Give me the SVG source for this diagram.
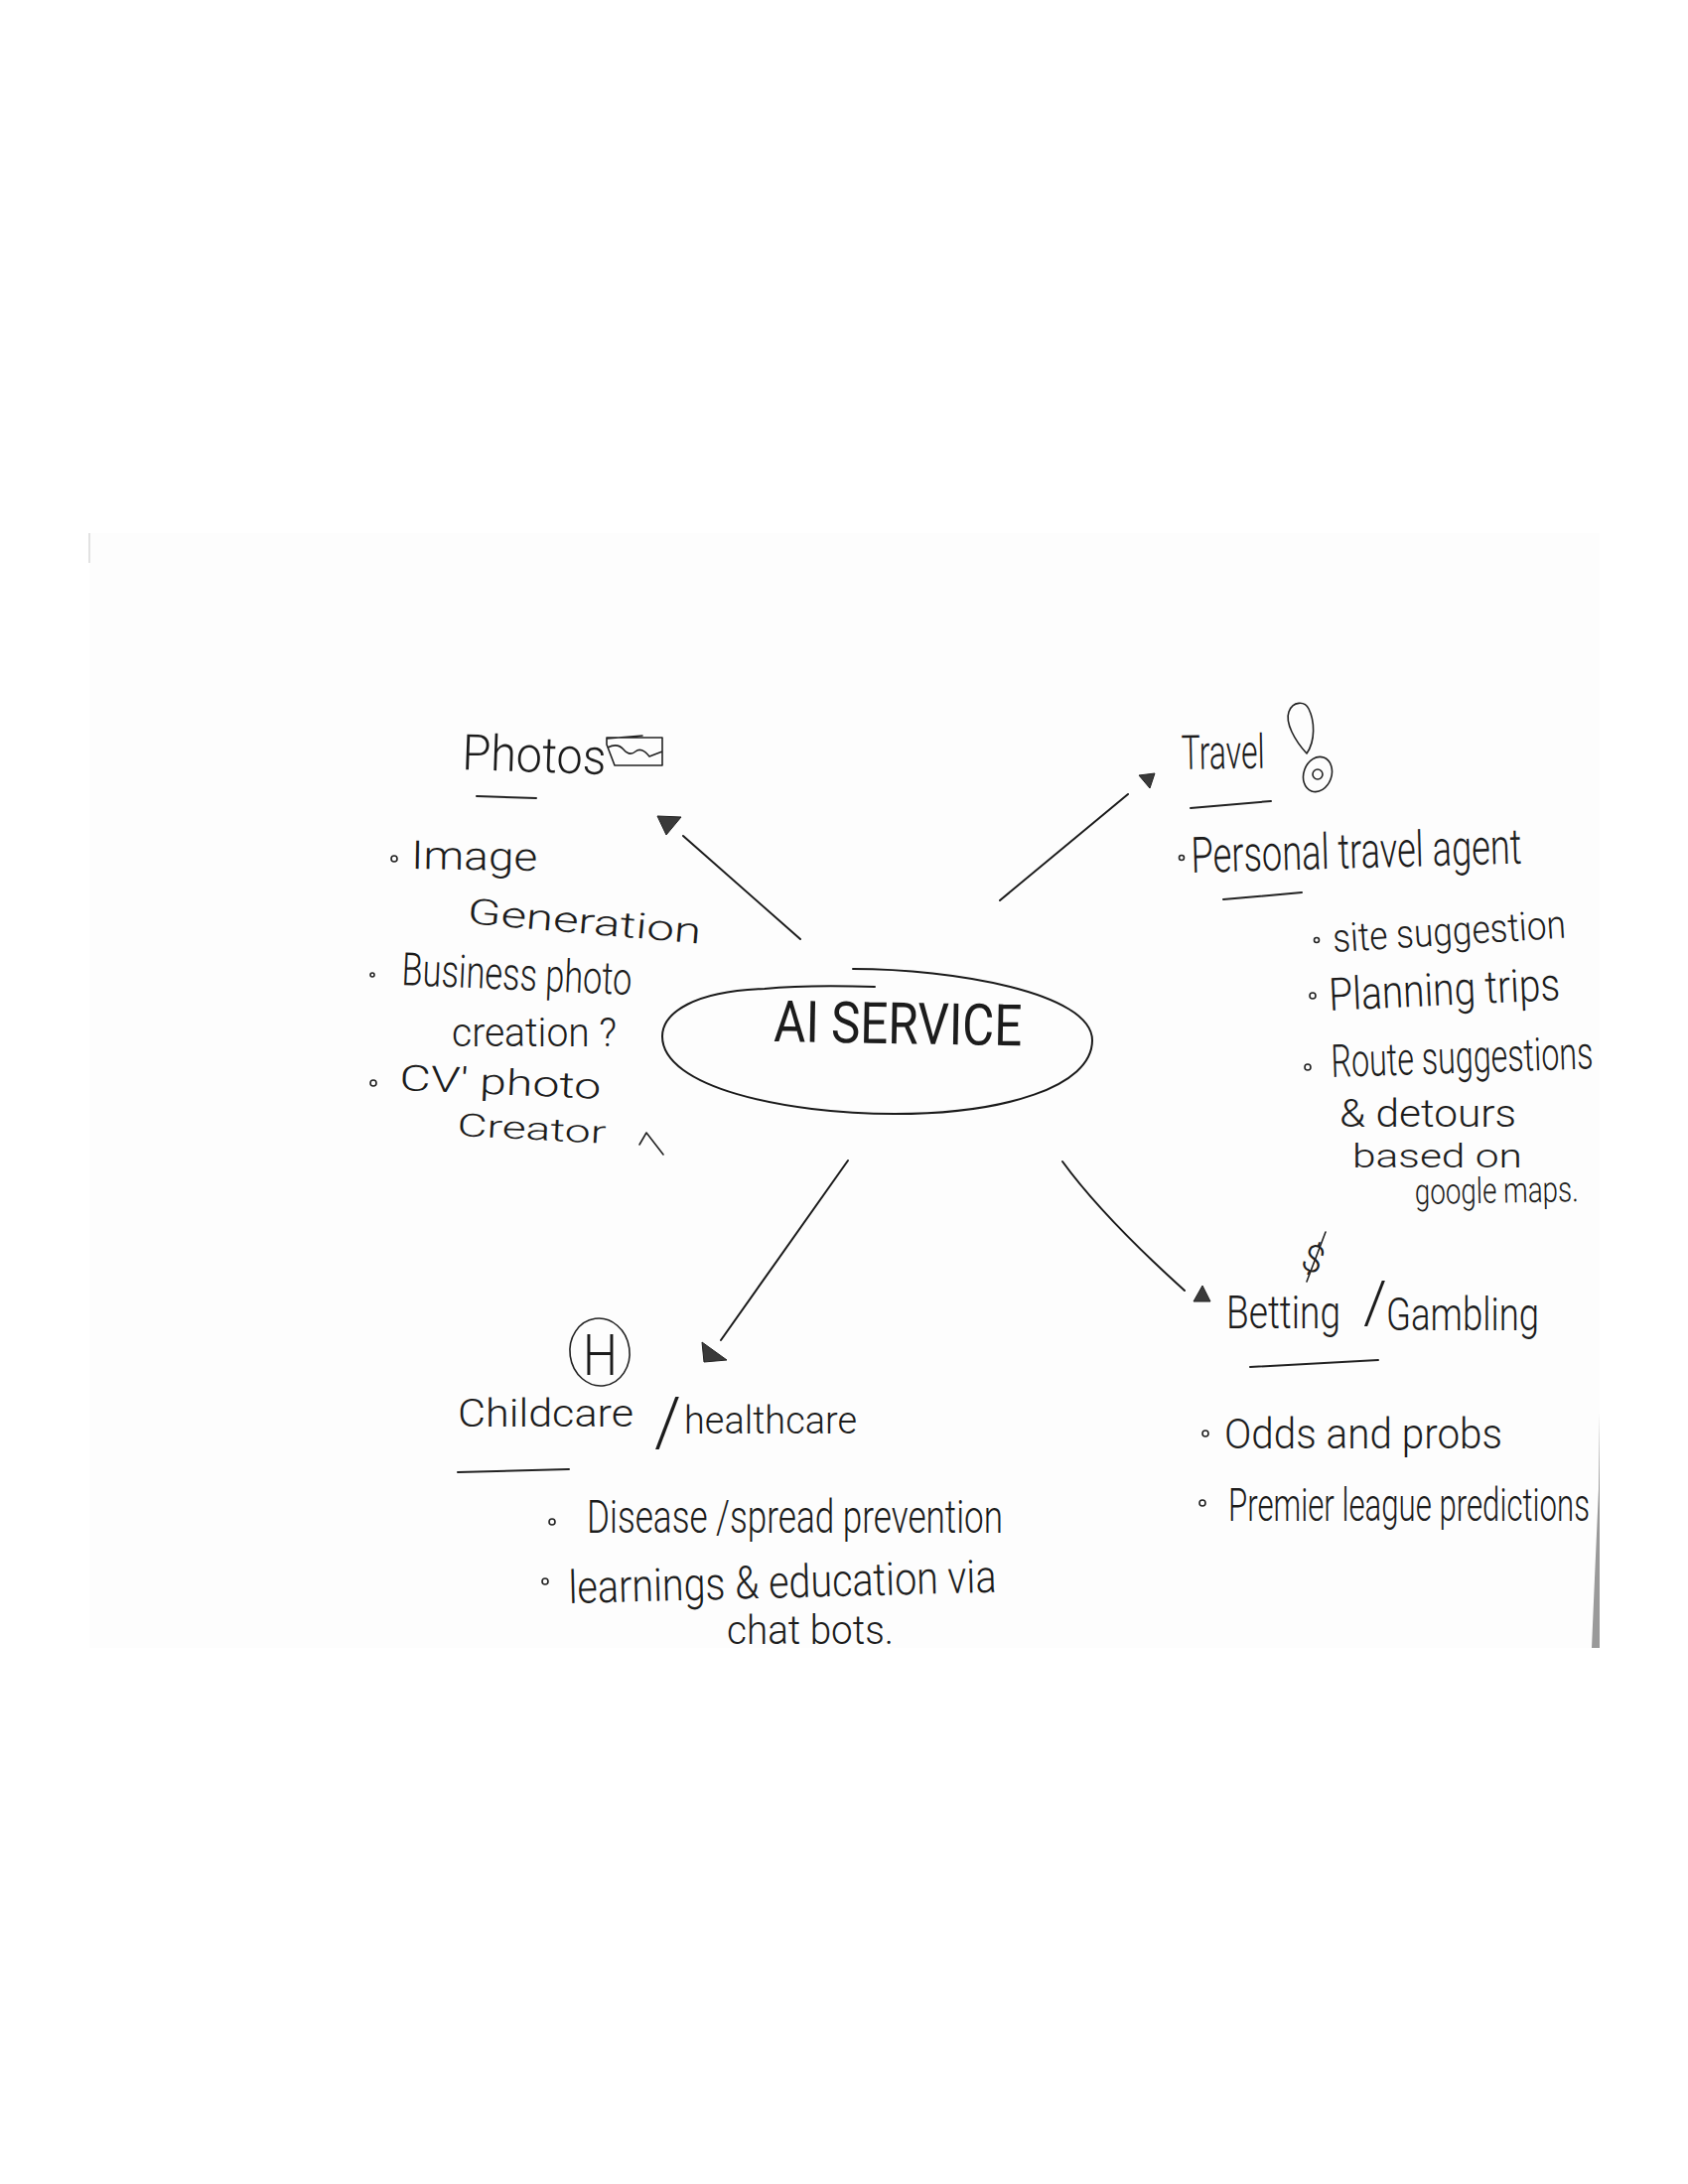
<svg xmlns="http://www.w3.org/2000/svg" width="1700" height="2200" viewBox="0 0 1700 2200">
<style>
text{font-family:"Roboto","Liberation Sans",sans-serif;font-weight:300;fill:#1c1c1c}
.ln{stroke:#1a1a1a;stroke-width:2;fill:none;stroke-linecap:round;stroke-linejoin:round}
.thin{stroke:#222;stroke-width:1.6;fill:none;stroke-linecap:round;stroke-linejoin:round}
.u{stroke:#222;stroke-width:2;fill:none;stroke-linecap:round}
.b{stroke:#222;stroke-width:1.6;fill:#fff}
.h{fill:#3a3a3a;stroke:#222;stroke-width:1;stroke-linejoin:round}
</style>
<rect width="1700" height="2200" fill="#fff"/>
<g id="paper">
<rect x="90" y="537" width="1521" height="1123" fill="#fdfdfd"/>
<path d="M90 537v30" stroke="#e2e2e2" stroke-width="2" fill="none"/>
<path d="M1611 1423V1660H1603L1606 1590L1610 1500Z" fill="#9a9a9a"/>
</g>
<g id="connectors">
<path class="ln" d="M806 946L688 842"/>
<polygon class="h" points="662,822 686,823 671,841"/>
<path class="ln" d="M1007 907L1136 800"/>
<polygon class="h" points="1147,781 1163,779 1158,794"/>
<path class="ln" d="M854 1169L726 1350"/>
<polygon class="h" points="707,1352 732,1370 709,1372"/>
<path class="ln" d="M1070 1170Q1110 1225 1193 1300"/>
<polygon class="h" points="1211,1295 1219,1311 1202,1311"/>
</g>
<g id="center">
<path class="ln" d="M859 976C960 976 1100 1000 1100 1048C1100 1095 1010 1122 901 1122C790 1122 667 1095 667 1044C667 1020 700 998 770 996C800 993 850 993 881 994"/>
<text x="779" y="1049" font-size="58" textLength="250" lengthAdjust="spacingAndGlyphs" transform="rotate(1 779 1049)" style="font-weight:400">AI SERVICE</text>
</g>
<g id="photos">
<text x="465" y="775" font-size="50" textLength="145" lengthAdjust="spacingAndGlyphs" transform="rotate(2 465 775)">Photos</text>
<path class="thin" d="M611 744L647 741M611 743H667V771H619L611 750ZM612 753Q622 748 628 755T640 757T654 762L667 757"/>
<path class="u" d="M480 802L540 804"/>
<circle class="b" cx="397" cy="865" r="3"/>
<text x="414" y="875" font-size="40" textLength="127" lengthAdjust="spacingAndGlyphs" transform="rotate(1 414 875)">Image</text>
<text x="470" y="930" font-size="36" textLength="236" lengthAdjust="spacingAndGlyphs" transform="rotate(5 470 930)">Generation</text>
<circle class="b" cx="375" cy="982" r="2"/>
<text x="404" y="992" font-size="46" textLength="232" lengthAdjust="spacingAndGlyphs" transform="rotate(2.5 404 992)">Business photo</text>
<text x="455" y="1054" font-size="40" textLength="166" lengthAdjust="spacingAndGlyphs">creation ?</text>
<circle class="b" cx="376" cy="1091" r="3"/>
<text x="402" y="1098" font-size="36" textLength="203" lengthAdjust="spacingAndGlyphs" transform="rotate(2.5 402 1098)">CV' photo</text>
<text x="460" y="1144" font-size="32" textLength="150" lengthAdjust="spacingAndGlyphs" transform="rotate(3 460 1144)">Creator</text>
<path class="thin" d="M644 1153L651 1141L668 1163"/>
</g>
<g id="travel">
<text x="1190" y="775" font-size="48" textLength="84" lengthAdjust="spacingAndGlyphs" transform="rotate(-1 1190 775)">Travel</text>
<path class="thin" d="M1316 759C1304 746 1294 728 1298 717C1302 706 1314 706 1318 714C1324 726 1325 746 1316 759Z"/>
<ellipse class="thin" cx="1327" cy="780" rx="14" ry="18" transform="rotate(20 1327 780)"/>
<circle class="thin" cx="1327" cy="780" r="5"/>
<path class="u" d="M1199 814L1280 807"/>
<circle class="b" cx="1190" cy="864" r="2.5"/>
<text x="1200" y="879" font-size="50" textLength="333" lengthAdjust="spacingAndGlyphs" transform="rotate(-1.6 1200 879)">Personal travel agent</text>
<path class="u" d="M1232 906L1311 899"/>
<circle class="b" cx="1326" cy="947" r="2.5"/>
<text x="1343" y="959" font-size="40" textLength="235" lengthAdjust="spacingAndGlyphs" transform="rotate(-3.5 1343 959)">site suggestion</text>
<circle class="b" cx="1322" cy="1003" r="3"/>
<text x="1339" y="1018" font-size="46" textLength="233" lengthAdjust="spacingAndGlyphs" transform="rotate(-2.7 1339 1018)">Planning trips</text>
<circle class="b" cx="1317" cy="1075" r="3"/>
<text x="1341" y="1085" font-size="46" textLength="264" lengthAdjust="spacingAndGlyphs" transform="rotate(-1.9 1341 1085)">Route suggestions</text>
<text x="1349" y="1135" font-size="38" textLength="178" lengthAdjust="spacingAndGlyphs">&amp; detours</text>
<text x="1362" y="1176" font-size="34" textLength="171" lengthAdjust="spacingAndGlyphs">based on</text>
<text x="1425" y="1213" font-size="36" textLength="165" lengthAdjust="spacingAndGlyphs" transform="rotate(-1 1425 1213)">google maps.</text>
</g>
<g id="health">
<ellipse class="thin" cx="604" cy="1362" rx="30" ry="34" transform="rotate(-8 604 1362)"/>
<text x="587" y="1385" font-size="58" textLength="35" lengthAdjust="spacingAndGlyphs">H</text>
<text font-size="38"><tspan x="461" y="1437" textLength="177" lengthAdjust="spacingAndGlyphs">Childcare</tspan><tspan> </tspan><tspan x="659" y="1456" font-size="68">/</tspan><tspan> </tspan><tspan x="689" y="1444" textLength="174" lengthAdjust="spacingAndGlyphs">healthcare</tspan></text>
<path class="u" d="M461 1483L573 1480"/>
<circle class="b" cx="556" cy="1533" r="3"/>
<text x="591" y="1544" font-size="46" textLength="419" lengthAdjust="spacingAndGlyphs">Disease /spread prevention</text>
<circle class="b" cx="549" cy="1593" r="3"/>
<text x="573" y="1615" font-size="46" textLength="431" lengthAdjust="spacingAndGlyphs" transform="rotate(-1.5 573 1615)">learnings &amp; education via</text>
<text x="732" y="1656" font-size="40" textLength="168" lengthAdjust="spacingAndGlyphs">chat bots.</text>
</g>
<g id="betting">
<text x="1312" y="1281" font-size="38" transform="rotate(20 1322 1268)">$</text>
<path class="thin" d="M1335 1241L1316 1291"/>
<text font-size="46"><tspan x="1235" y="1338" textLength="115" lengthAdjust="spacingAndGlyphs">Betting</tspan><tspan> </tspan><tspan x="1373" y="1332" font-size="60">/</tspan><tspan> </tspan><tspan x="1396" y="1340" textLength="154" lengthAdjust="spacingAndGlyphs">Gambling</tspan></text>
<path class="u" d="M1259 1377L1388 1370"/>
<circle class="b" cx="1214" cy="1444" r="3"/>
<text x="1233" y="1459" font-size="42" textLength="280" lengthAdjust="spacingAndGlyphs">Odds and probs</text>
<circle class="b" cx="1211" cy="1514" r="3"/>
<text x="1237" y="1532" font-size="46" textLength="364" lengthAdjust="spacingAndGlyphs">Premier league predictions</text>
</g>
</svg>
